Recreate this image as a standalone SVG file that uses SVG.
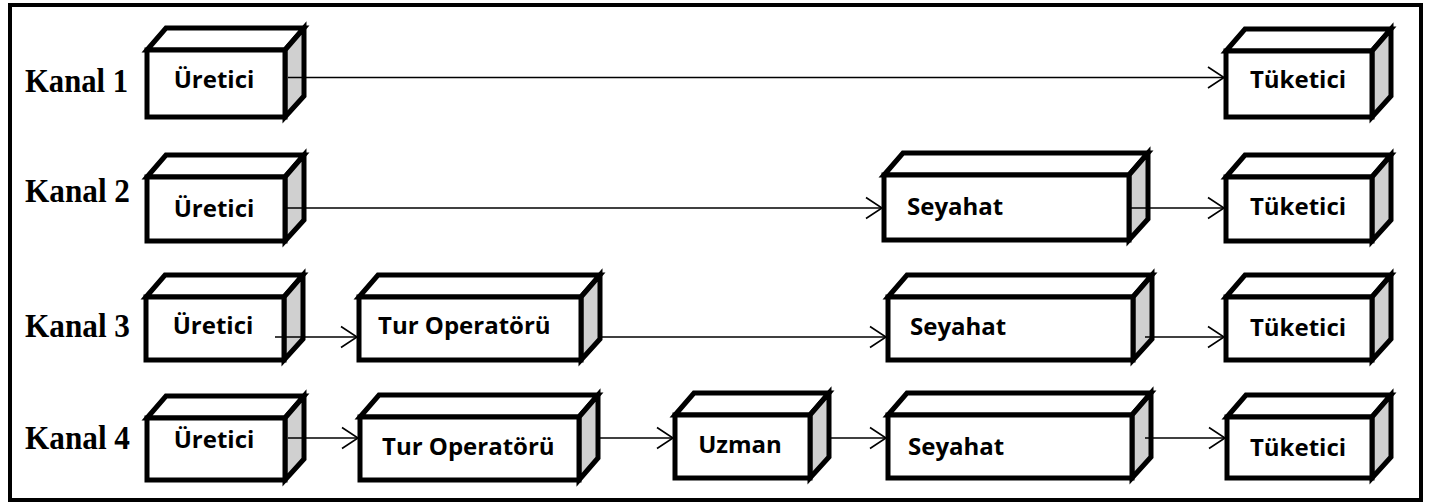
<svg xmlns="http://www.w3.org/2000/svg" width="1431" height="503" viewBox="0 0 1431 503">
<style>
.frame{fill:none;stroke:#000;stroke-width:4}
.front{fill:#fff;stroke:#000;stroke-width:5;stroke-linejoin:miter}
.top{fill:#fff;stroke:#000;stroke-width:5;stroke-linejoin:miter}
.side{fill:#d0d0d0;stroke:#000;stroke-width:5;stroke-linejoin:miter}
.lbl{font-family:"Open Sans","Liberation Sans",sans-serif;font-weight:bold;font-size:24px;fill:#000}
.kanal{font-family:"Liberation Serif","Times New Roman",serif;font-weight:bold;font-size:33px;fill:#000}
.conn{stroke:#000;stroke-width:1.6;fill:none}
</style>
<defs>
<marker id="arr" markerUnits="userSpaceOnUse" markerWidth="20" markerHeight="26" viewBox="-17 -13 20 26" refX="0" refY="0" orient="auto">
<path d="M-16,-10.5 L0,0 L-16,10.5" fill="none" stroke="#000" stroke-width="1.6"/>
</marker>
</defs>
<rect class="frame" x="10" y="5" width="1411" height="495"/>
<g id="labels">
<text class="kanal" x="25" y="92" textLength="103" lengthAdjust="spacingAndGlyphs">Kanal 1</text>
<text class="kanal" x="25" y="202" textLength="105" lengthAdjust="spacingAndGlyphs">Kanal 2</text>
<text class="kanal" x="25" y="337" textLength="105" lengthAdjust="spacingAndGlyphs">Kanal 3</text>
<text class="kanal" x="25" y="449" textLength="105" lengthAdjust="spacingAndGlyphs">Kanal 4</text>
</g>
<!-- Row 1 -->
<g id="k1-uretici">
<polygon class="top" points="147,50 166,28 304,28 285,50"/>
<polygon class="side" points="285,50 304,28 304,96 285,117"/>
<rect class="front" x="147" y="50" width="138" height="67"/>
<text class="lbl" x="214" y="88" text-anchor="middle">Üretici</text>
</g>
<g id="k1-tuketici">
<polygon class="top" points="1226,51 1245,29 1391,29 1372,51"/>
<polygon class="side" points="1372,51 1391,29 1391,96 1372,117"/>
<rect class="front" x="1226" y="51" width="146" height="66"/>
<text class="lbl" x="1298" y="88" text-anchor="middle">Tüketici</text>
</g>
<!-- Row 2 -->
<g id="k2-uretici">
<polygon class="top" points="147,177 166,155 304,155 285,177"/>
<polygon class="side" points="285,177 304,155 304,220 285,241"/>
<rect class="front" x="147" y="177" width="138" height="64"/>
<text class="lbl" x="214" y="217" text-anchor="middle">Üretici</text>
</g>
<g id="k2-seyahat">
<polygon class="top" points="884,175 903,153 1148,153 1129,175"/>
<polygon class="side" points="1129,175 1148,153 1148,219 1129,240"/>
<rect class="front" x="884" y="175" width="245" height="65"/>
<text class="lbl" x="907" y="215">Seyahat</text>
</g>
<g id="k2-tuketici">
<polygon class="top" points="1226,177 1245,155 1391,155 1372,177"/>
<polygon class="side" points="1372,177 1391,155 1391,220 1372,241"/>
<rect class="front" x="1226" y="177" width="146" height="64"/>
<text class="lbl" x="1298" y="215" text-anchor="middle">Tüketici</text>
</g>
<!-- Row 3 -->
<g id="k3-uretici">
<polygon class="top" points="146,297 165,275 303,275 284,297"/>
<polygon class="side" points="284,297 303,275 303,339 284,360"/>
<rect class="front" x="146" y="297" width="138" height="63"/>
<text class="lbl" x="213" y="334" text-anchor="middle">Üretici</text>
</g>
<g id="k3-turoperatoru">
<polygon class="top" points="359,297 378,275 600,275 581,297"/>
<polygon class="side" points="581,297 600,275 600,339 581,360"/>
<rect class="front" x="359" y="297" width="222" height="63"/>
<text class="lbl" x="378" y="334">Tur Operatörü</text>
</g>
<g id="k3-seyahat">
<polygon class="top" points="888,297 907,275 1152,275 1133,297"/>
<polygon class="side" points="1133,297 1152,275 1152,339 1133,360"/>
<rect class="front" x="888" y="297" width="245" height="63"/>
<text class="lbl" x="910" y="335">Seyahat</text>
</g>
<g id="k3-tuketici">
<polygon class="top" points="1226,297 1245,275 1391,275 1372,297"/>
<polygon class="side" points="1372,297 1391,275 1391,339 1372,360"/>
<rect class="front" x="1226" y="297" width="146" height="63"/>
<text class="lbl" x="1298" y="336" text-anchor="middle">Tüketici</text>
</g>
<!-- Row 4 -->
<g id="k4-uretici">
<polygon class="top" points="147,418 166,396 304,396 285,418"/>
<polygon class="side" points="285,418 304,396 304,459 285,480"/>
<rect class="front" x="147" y="418" width="138" height="62"/>
<text class="lbl" x="214" y="448" text-anchor="middle">Üretici</text>
</g>
<g id="k4-turoperatoru">
<polygon class="top" points="360,417 379,395 598,395 579,417"/>
<polygon class="side" points="579,417 598,395 598,458 579,480"/>
<rect class="front" x="360" y="417" width="219" height="63"/>
<text class="lbl" x="382" y="455">Tur Operatörü</text>
</g>
<g id="k4-uzman">
<polygon class="top" points="675,415 694,393 829,393 810,415"/>
<polygon class="side" points="810,415 829,393 829,457 810,478"/>
<rect class="front" x="675" y="415" width="135" height="63"/>
<text class="lbl" x="740" y="453" text-anchor="middle">Uzman</text>
</g>
<g id="k4-seyahat">
<polygon class="top" points="888,415 907,393 1151,393 1132,415"/>
<polygon class="side" points="1132,415 1151,393 1151,457 1132,478"/>
<rect class="front" x="888" y="415" width="244" height="63"/>
<text class="lbl" x="908" y="455">Seyahat</text>
</g>
<g id="k4-tuketici">
<polygon class="top" points="1227,417 1246,395 1391,395 1372,417"/>
<polygon class="side" points="1372,417 1391,395 1391,457 1372,478"/>
<rect class="front" x="1227" y="417" width="145" height="61"/>
<text class="lbl" x="1298" y="456" text-anchor="middle">Tüketici</text>
</g>
<g id="connectors">
<line class="conn" x1="288" y1="77.5" x2="1224" y2="77.5" marker-end="url(#arr)"/>
<line class="conn" x1="285" y1="208" x2="882" y2="208" marker-end="url(#arr)"/>
<line class="conn" x1="1131" y1="208" x2="1224" y2="208" marker-end="url(#arr)"/>
<line class="conn" x1="275" y1="337" x2="357" y2="337" marker-end="url(#arr)"/>
<line class="conn" x1="601" y1="337" x2="886" y2="337" marker-end="url(#arr)"/>
<line class="conn" x1="1145" y1="337" x2="1224" y2="337" marker-end="url(#arr)"/>
<line class="conn" x1="288" y1="438" x2="358" y2="438" marker-end="url(#arr)"/>
<line class="conn" x1="600" y1="438" x2="673" y2="438" marker-end="url(#arr)"/>
<line class="conn" x1="830" y1="438" x2="886" y2="438" marker-end="url(#arr)"/>
<line class="conn" x1="1145" y1="438" x2="1225" y2="438" marker-end="url(#arr)"/>
</g>
</svg>
